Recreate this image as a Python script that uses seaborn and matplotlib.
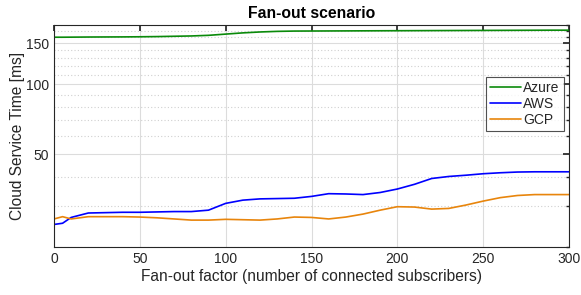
import numpy as np
import pandas as pd
import matplotlib
matplotlib.use("Agg")
import matplotlib.pyplot as plt
import seaborn as sns
from matplotlib.ticker import FixedLocator, NullFormatter, FixedFormatter

x_vals = [0, 5, 10, 20, 30, 40, 50, 60, 70, 80, 90, 100, 110, 120, 130, 140, 150,
          160, 170, 180, 190, 200, 210, 220, 230, 240, 250, 260, 270, 280, 290, 300]
azure = [159.5, 159.5, 159.6, 159.8, 159.9, 160.0, 160.2, 160.5, 161.0, 161.5, 162.5,
         164.5, 166.5, 168.0, 169.0, 169.5, 169.6, 169.7, 169.8, 169.9, 170.0, 170.1,
         170.2, 170.3, 170.4, 170.5, 170.6, 170.7, 170.8, 170.9, 171.0, 171.0]
aws = [25.0, 25.3, 26.8, 28.0, 28.1, 28.2, 28.2, 28.3, 28.4, 28.4, 28.8, 30.8, 31.8,
       32.2, 32.3, 32.4, 33.0, 33.9, 33.8, 33.6, 34.3, 35.5, 37.2, 39.4, 40.2, 40.7,
       41.3, 41.7, 42.0, 42.1, 42.1, 42.1]
gcp = [26.4, 27.0, 26.4, 27.0, 27.0, 27.0, 26.9, 26.7, 26.4, 26.1, 26.1, 26.3, 26.2,
       26.1, 26.4, 26.9, 26.8, 26.4, 26.9, 27.7, 28.8, 29.8, 29.7, 29.1, 29.3, 30.3,
       31.5, 32.6, 33.3, 33.6, 33.6, 33.6]
series_names = ["Azure", "AWS", "GCP"]
colors = ["#0a8a0a", "#0000ff", "#e8850c"]
title = "Fan-out scenario"
xlabel = "Fan-out factor (number of connected subscribers)"
ylabel = "Cloud Service Time [ms]"
x_ticks = [0, 50, 100, 150, 200, 250, 300]
y_ticks = [50, 100, 150]
y_minor = [20, 30, 40, 60, 70, 80, 90, 110, 120, 130, 140, 160, 170, 180]

df = pd.DataFrame({
    "x": x_vals * 3,
    "y": azure + aws + gcp,
    "series": [series_names[0]] * len(x_vals) + [series_names[1]] * len(x_vals)
              + [series_names[2]] * len(x_vals),
})

sns.set_theme(style="white")
plt.rcParams["font.family"] = ["Liberation Sans", "DejaVu Sans"]

fig = plt.figure(figsize=(5.81, 2.95), dpi=100)
ax = fig.add_axes([54 / 581, 1 - 247 / 295, 515 / 581, 222 / 295])

sns.lineplot(data=df, x="x", y="y", hue="series", palette=dict(zip(series_names, colors)),
             ax=ax, linewidth=1.2, legend=True)

ax.set_yscale("log")
ax.set_xlim(0, 300)
ax.set_ylim(20, 180)
ax.xaxis.set_major_locator(FixedLocator(x_ticks))
ax.yaxis.set_major_locator(FixedLocator(y_ticks))
ax.yaxis.set_major_formatter(FixedFormatter([str(v) for v in y_ticks]))
ax.yaxis.set_minor_locator(FixedLocator(y_minor))
ax.yaxis.set_minor_formatter(NullFormatter())

ax.grid(True, which="major", color="#dcdcdc", linewidth=0.8, linestyle="-")
ax.grid(True, which="minor", axis="y", color="#d0d0d0", linewidth=0.8, linestyle=(0, (1, 2)))
ax.set_axisbelow(True)

for s in ax.spines.values():
    s.set_color("#262626")
    s.set_linewidth(0.8)
ax.tick_params(which="both", direction="in", top=True, right=True, colors="#262626",
               labelsize=10, labelcolor="#262626")
ax.tick_params(which="major", length=4)
ax.tick_params(which="minor", length=2.5)

ax.set_xlabel(xlabel, fontsize=11.2, color="#262626", labelpad=2)
ax.set_ylabel(ylabel, fontsize=11.2, color="#262626", labelpad=1)
ax.set_title(title, fontsize=11.3, fontweight="bold", color="black", pad=5)

leg = ax.legend(loc="upper right", bbox_to_anchor=(0.99, 0.767), borderaxespad=0,
                fontsize=10, frameon=True, fancybox=False, handlelength=2.2,
                handletextpad=0.2, borderpad=0.3, labelspacing=0.15)
leg.get_frame().set_edgecolor("#262626")
leg.get_frame().set_linewidth(0.8)
leg.set_title(None)

fig.savefig("out.png", dpi=100)
